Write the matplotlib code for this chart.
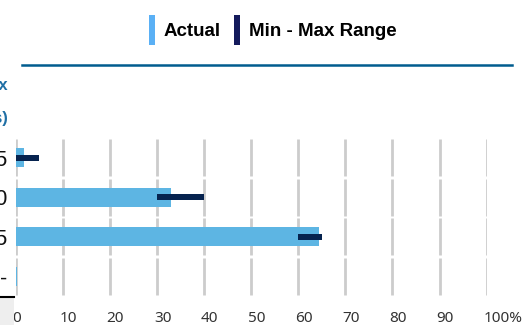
import numpy as np
import matplotlib
matplotlib.use("Agg")
import matplotlib.pyplot as plt
from matplotlib.patches import Patch, Rectangle
from matplotlib.lines import Line2D
import matplotlib.transforms as mtransforms

# target bands per row and the actual share reached
row_labels = ["0 - 5", "30 - 40", "60 - 65", "-"]
actual = [1.7, 33.0, 64.5, 0.4]
range_min = [0, 30, 60, np.nan]
range_max = [5, 40, 65, np.nan]
xticks = [0, 10, 20, 30, 40, 50, 60, 70, 80, 90, 100]
xtick_labels = ["0", "10", "20", "30", "40", "50", "60", "70", "80", "90", "100%"]

W, H = 526, 325
fig = plt.figure(figsize=(W / 100, H / 100), dpi=100)


def px(x0, y0, w, h):
    return [x0 / W, 1 - (y0 + h) / H, w / W, h / H]


ax = fig.add_axes(px(15.5, 138, 471.2, 158))
ax.set_xlim(0, 100)
ax.set_ylim(len(row_labels) - 0.5, -0.5)
for s in ax.spines.values():
    s.set_visible(False)

y = np.arange(len(row_labels))

# gridlines broken at each row border
gap = 0.03
for i in y:
    ax.vlines(xticks, i - 0.5 + gap, i + 0.5 - gap, color="#cccccc", lw=2, zorder=1)

ax.barh(y, actual, height=0.49, color="#5db5e3", zorder=2)
rmin = np.array(range_min)
rmax = np.array(range_max)
ok = ~np.isnan(rmin)
ax.barh(y[ok], rmax[ok] - rmin[ok], left=rmin[ok], height=0.15, color="#06234f", zorder=3)

ax.set_yticks(y)
ax.set_yticklabels(row_labels, fontsize=15.5, family="Liberation Sans", color="#111111")
ax.tick_params(axis="y", length=0, pad=5.8)

ax.set_xticks(xticks)
ax.set_xticklabels(xtick_labels, fontsize=11, family="Noto Sans", color="#333333")
ax.tick_params(axis="x", length=0, pad=11)
shift = mtransforms.ScaledTranslation(-3 / 100, 0, fig.dpi_scale_trans)
for lbl in ax.get_xticklabels():
    lbl.set_ha("left")
    lbl.set_transform(lbl.get_transform() + shift)

# left table column pieces
fig.add_artist(Rectangle((0, 0), 14 / W, 28 / H, transform=fig.transFigure,
                         color="#eeeeee", lw=0))
fig.add_artist(Line2D([0, 14 / W], [1 - 296.5 / H] * 2, transform=fig.transFigure,
                      color="black", lw=1.5))
fig.text(8 / W, 1 - 85 / H, "Min - Max", ha="right", va="center", fontsize=12,
         fontweight="bold", color="#1f6fa5", family="Liberation Sans")
fig.text(8 / W, 1 - 119 / H, "(Targets)", ha="right", va="center", fontsize=12,
         fontweight="bold", color="#1f6fa5", family="Liberation Sans")

# header rule under the legend
fig.add_artist(Line2D([22 / W, 512 / W], [1 - 64.5 / H] * 2, transform=fig.transFigure,
                      color="#005c8f", lw=1.8))

handles = [Patch(color="#5ab0f5", lw=0), Patch(color="#141a5c", lw=0)]
fig.legend(handles, ["Actual", "Min - Max Range"], loc="center",
           bbox_to_anchor=(272.5 / W, 1 - 30 / H), ncol=2, frameon=False,
           handlelength=0.32, handleheight=2.13, handletextpad=0.48,
           columnspacing=0.69, borderpad=0,
           prop={"family": "Liberation Sans", "weight": "bold", "size": 13.5})

fig.savefig("out.png", dpi=100)
